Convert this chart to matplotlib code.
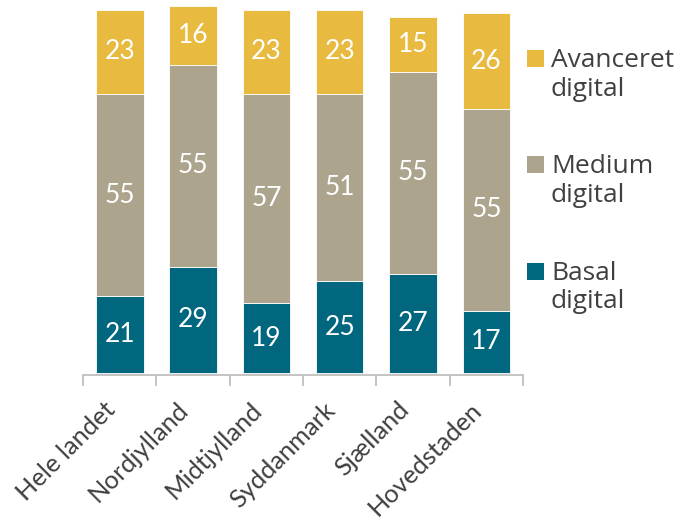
import matplotlib
matplotlib.use("Agg")
import matplotlib.pyplot as plt
from matplotlib.patches import Rectangle
import numpy as np

categories = ["Hele landet", "Nordjylland", "Midtjylland", "Syddanmark", "Sjælland", "Hovedstaden"]
basal = [21, 29, 19, 25, 27, 17]
medium = [55, 55, 57, 51, 55, 55]
avanceret = [23, 16, 23, 23, 15, 26]
series_labels = [("Basal", "digital"), ("Medium", "digital"), ("Avanceret", "digital")]
colors = ["#00677F", "#ADA48E", "#E8BA40"]

plt.rcParams['font.family'] = ['Lato', 'DejaVu Sans']

W, H = 678, 526
fig = plt.figure(figsize=(W/100, H/100), dpi=100)
ax = fig.add_axes([83/W, (H-374.5)/H, 440/W, 368.5/H])

x = np.arange(len(categories))
width = 0.65
bottom = np.zeros(len(categories))
for vals, col in zip([basal, medium, avanceret], colors):
    vals = np.array(vals, dtype=float)
    ax.bar(x, vals, width, bottom=bottom, color=col, edgecolor="white", linewidth=0.6)
    for xi, v, bt in zip(x, vals, bottom):
        ax.text(xi, bt + v/2, f"{int(v)}", ha="center", va="center", color="white", fontsize=19)
    bottom += vals

ax.set_xlim(-0.5, len(categories) - 0.5)
ax.set_ylim(-0.4, 100)
ax.set_yticks([])
for s in ["top", "right", "left"]:
    ax.spines[s].set_visible(False)
ax.spines["bottom"].set_color("#BFBFBF")
ax.spines["bottom"].set_linewidth(1.3)
ax.set_xticks(x)
ax.set_xticklabels(categories, rotation=45, ha="right", fontsize=18.3, color="#404040")
ax.tick_params(axis="x", which="major", length=0, pad=17)
ax.set_xticks(np.arange(-0.5, len(categories)), minor=True)
ax.tick_params(axis="x", which="minor", length=8, width=1.3, color="#BFBFBF")

# legend (square aligned with first text line), pixel baselines from top
legend_baselines = [280, 173.3, 67]
line_gap = 28.5
sq = 17
for (l1, l2), col, yb in zip(series_labels, colors, legend_baselines):
    fig.patches.append(Rectangle((527/W, (H - yb)/H), sq/W, sq/H,
                                 transform=fig.transFigure, facecolor=col, edgecolor="none"))
    for k, txt in enumerate((l1, l2)):
        fig.text(551/W, (H - yb - k*line_gap)/H, txt, ha="left", va="baseline",
                 fontsize=19, color="#404040", family=["Open Sans", "DejaVu Sans"])

fig.savefig("out.png", dpi=100)
